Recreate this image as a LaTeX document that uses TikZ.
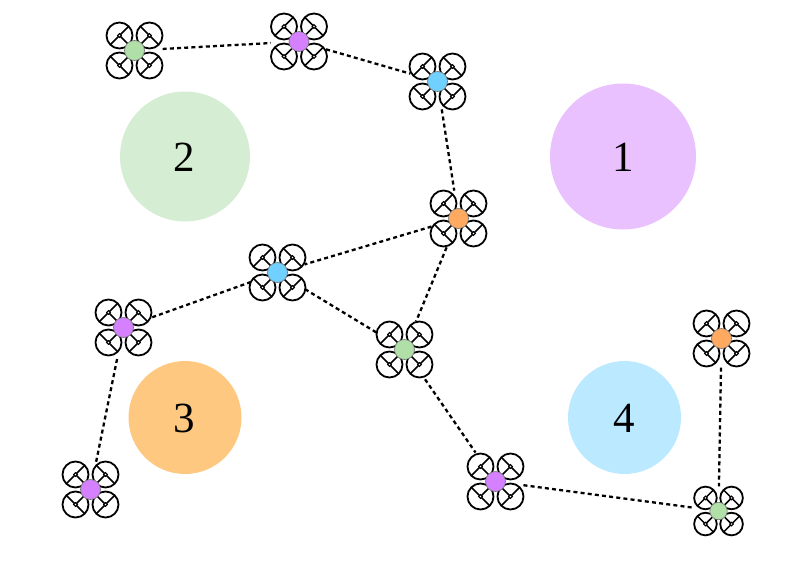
\documentclass[tikz,border=0pt]{standalone}
\usepackage{fontspec}
\setmainfont{Liberation Serif}
\definecolor{zonea}{HTML}{E9C1FF}
\definecolor{zoneb}{HTML}{D5EED3}
\definecolor{zonec}{HTML}{FFC880}
\definecolor{zoned}{HTML}{BBE9FF}
\definecolor{hubgreen}{HTML}{B0E0A8}
\definecolor{hubpurple}{HTML}{D580FF}
\definecolor{hubblue}{HTML}{70D0FF}
\definecolor{huborange}{HTML}{FFAA60}
\tikzset{
  zone/.style={circle,inner sep=0pt},
  zonelabel/.style={inner sep=0pt,font=\fontsize{43}{43}\selectfont},
  dronearea/.style={circle,inner sep=0pt,minimum size=#1},
  rotor/.style={draw=black,line width=1.8pt,fill=white},
  blade/.style={draw=black,line width=1.5pt},
  hubdot/.style={circle,draw=black!55,line width=0.6pt,fill=#1,inner sep=0pt,minimum size=18pt},
  link/.style={draw=black,line width=2.3pt,dash pattern=on 4pt off 3.2pt},
}
% One quadcopter: name, x, y, hub colour, scale
\newcommand{\quadcopter}[5]{%
  \begin{scope}[shift={(#2,#3)}]
    \foreach \sx/\sy in {-1/-1,1/-1,-1/1,1/1}{
      \path[rotor] (\sx*15*#5,\sy*15*#5) circle[radius=13*#5];
      \path[blade] (0,0) -- (\sx*15*#5,\sy*15*#5);
      \path[blade] (\sx*15*#5+\sy*9*#5,\sy*15*#5-\sx*9*#5) -- (\sx*15*#5-\sy*9*#5,\sy*15*#5+\sx*9*#5);
      \path[draw=black,line width=1.1pt,fill=white] (\sx*15*#5,\sy*15*#5) circle[radius=1.8];
    }
  \end{scope}
  \node[hubdot=#4,minimum size={20pt*#5}] at (#2,#3) {};
  \node[dronearea={56pt*#5}] (#1) at (#2,#3) {};
}
\begin{document}
\begin{tikzpicture}[x=1pt,y=-1pt]
  \useasboundingbox (0,0) rectangle (789,565);
  % coverage zones
  \node[zone,fill=zonea,minimum size=146pt] (z1) at (623,156.5) {};
  \node[zone,fill=zoneb,minimum size=130pt] (z2) at (185,156.5) {};
  \node[zone,fill=zonec,minimum size=113pt] (z3) at (185,417.5) {};
  \node[zone,fill=zoned,minimum size=113pt] (z4) at (624.5,417.5) {};
  \node[zonelabel] (n1) at (623,157.5) {1};
  \node[zonelabel] (n2) at (184,157.5) {2};
  \node[zonelabel] (n3) at (184,418.5) {3};
  \node[zonelabel] (n4) at (624,418.5) {4};
  % drones
  \quadcopter{a}{134.5}{50.5}{hubgreen}{1}
  \quadcopter{b}{299}{41.5}{hubpurple}{1}
  \quadcopter{c}{437.5}{81.5}{hubblue}{1}
  \quadcopter{d}{458.5}{218.5}{huborange}{1}
  \quadcopter{e}{277.5}{272.5}{hubblue}{1}
  \quadcopter{f}{123.5}{327.5}{hubpurple}{1}
  \quadcopter{g}{404.5}{349.5}{hubgreen}{1}
  \quadcopter{h}{90.5}{489.5}{hubpurple}{1}
  \quadcopter{i}{495.5}{481.5}{hubpurple}{1}
  \quadcopter{j}{721.5}{338.5}{huborange}{1}
  \quadcopter{k}{718.5}{511}{hubgreen}{0.87}
  % radio links
  \draw[link] (a) -- (b);
  \draw[link] (b) -- (c);
  \draw[link] (c) -- (d);
  \draw[link] (d) -- (e);
  \draw[link] (e) -- (f);
  \draw[link,shorten <=4pt] (f) -- (h);
  \draw[link,shorten <=4pt,shorten >=4pt] (e) -- (g);
  \draw[link,shorten <=3pt,shorten >=2pt] (d) -- (g);
  \draw[link,shorten <=8pt,shorten >=7pt] (g) -- (i);
  \draw[link] (i) -- (k);
  \draw[link,shorten <=1pt] (j) -- (k);
\end{tikzpicture}
\end{document}
